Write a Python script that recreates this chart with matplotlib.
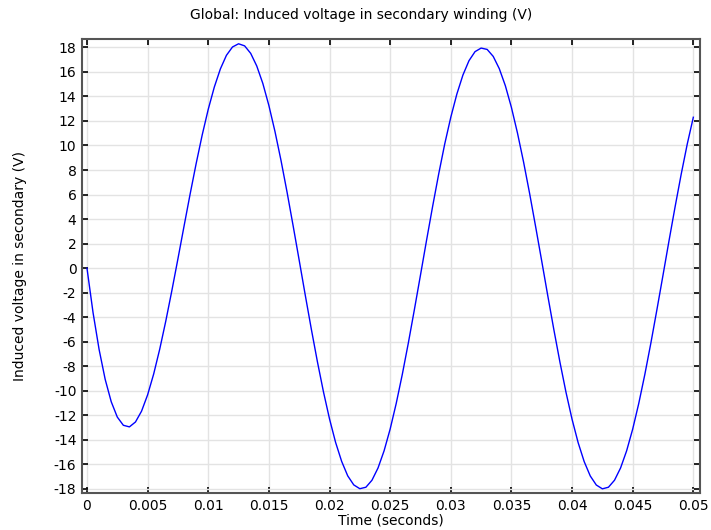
import numpy as np
import matplotlib
matplotlib.use('Agg')
import matplotlib.pyplot as plt
from matplotlib.ticker import MultipleLocator

plt.rcParams['axes.unicode_minus'] = False
plt.rcParams['font.family'] = 'DejaVu Sans'

# Zeitschritt der Simulation (s)
T_STEP = 0.0005

voltage = [
    0.0, -3.62, -6.63, -9.06, -10.89, -12.14, -12.81, -12.94, -12.54, -11.66,
    -10.33, -8.63, -6.60, -4.31, -1.83, 0.76, 3.40, 6.01, 8.51, 10.85,
    12.95, 14.76, 16.24, 17.35, 18.03, 18.29, 18.12, 17.51, 16.48, 15.06,
    13.26, 11.15, 8.78, 6.19, 3.45, 0.64, -2.20, -4.97, -7.62, -10.08,
    -12.29, -14.20, -15.75, -16.93, -17.67, -17.98, -17.86, -17.29, -16.29, -14.89,
    -13.12, -11.03, -8.67, -6.10, -3.37, -0.57, 2.26, 5.02, 7.66, 10.12,
    12.30, 14.19, 15.74, 16.91, 17.65, 17.94, 17.83, 17.26, 16.26, 14.87,
    13.10, 11.01, 8.66, 6.09, 3.36, 0.57, -2.26, -5.02, -7.66, -10.12,
    -12.32, -14.22, -15.77, -16.94, -17.68, -17.99, -17.86, -17.29, -16.29, -14.89,
    -13.12, -11.03, -8.67, -6.10, -3.37, -0.57, 2.26, 5.02, 7.66, 10.12,
    12.30,
]
time = np.arange(len(voltage)) * T_STEP

x_ticks = [0, 0.005, 0.01, 0.015, 0.02, 0.025, 0.03, 0.035, 0.04, 0.045, 0.05]
x_labels = ['0', '0.005', '0.01', '0.015', '0.02', '0.025', '0.03', '0.035', '0.04', '0.045', '0.05']

fig = plt.figure(figsize=(7.11, 5.30), dpi=100)
ax = fig.add_axes([82 / 711, 1 - 493 / 530, 618 / 711, 454 / 530])

ax.plot(time, voltage, color='#0000ff', linewidth=1.0)

ax.set_xlim(-0.00041, 0.05055)
ax.set_ylim(-18.33, 18.68)
ax.set_xticks(x_ticks)
ax.set_xticklabels(x_labels)
ax.yaxis.set_major_locator(MultipleLocator(2))

ax.grid(True, color='#e3e3e3', linewidth=1)
ax.set_axisbelow(True)
ax.tick_params(direction='in', top=True, right=True, length=4.5, width=1.2,
               labelsize=10, colors='black', pad=4)
for s in ax.spines.values():
    s.set_color('#555555')
    s.set_linewidth(1.5)

ax.set_xlabel('Time (seconds)', fontsize=10, labelpad=1)
ax.set_ylabel('Induced voltage in secondary (V)', fontsize=10, labelpad=19)
fig.text(0.508, 1 - 15 / 530, 'Global: Induced voltage in secondary winding (V)',
         ha='center', va='center', fontsize=10)

plt.savefig('out.png', dpi=100)
